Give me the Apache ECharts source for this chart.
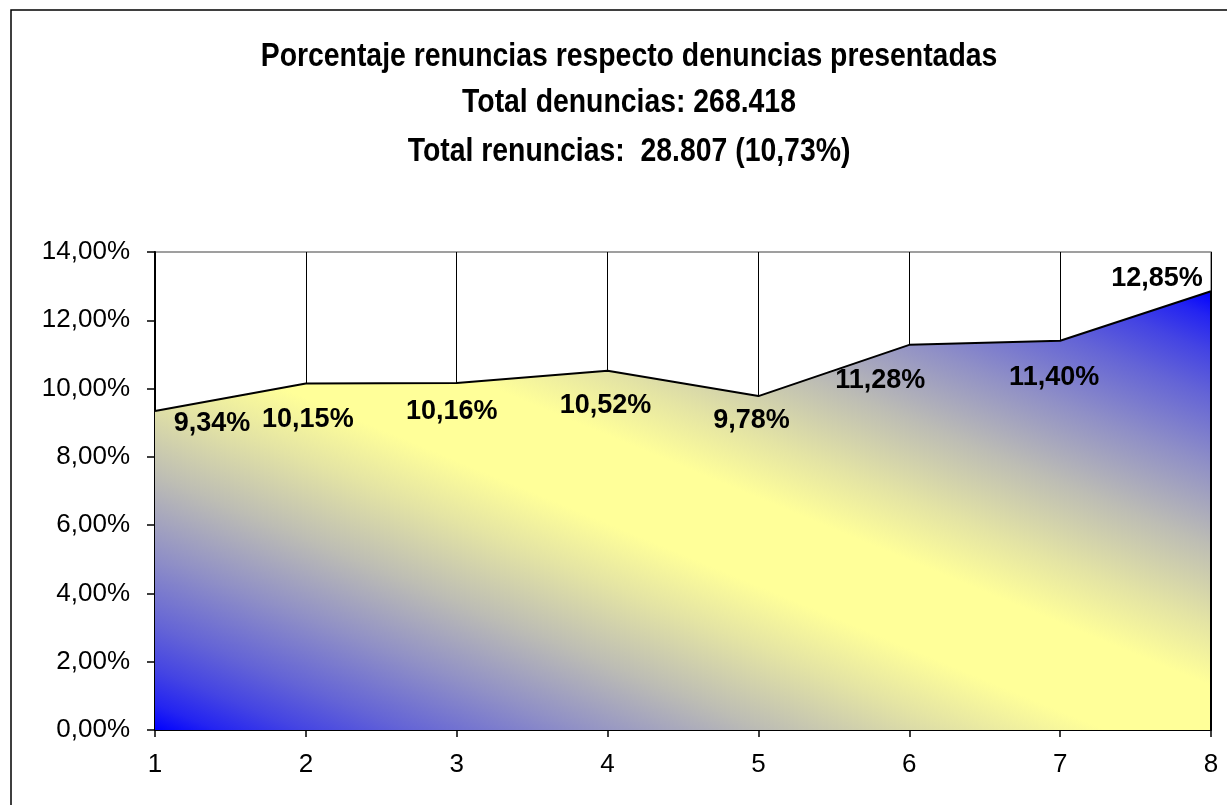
<!DOCTYPE html>
<html>
<head>
<meta charset="utf-8">
<style>html,body{margin:0;padding:0;background:#fff;}#c{width:1227px;height:805px;}</style>
<script src="https://cdn.jsdelivr.net/npm/echarts@6/dist/echarts.min.js"></script>
</head>
<body>
<div id="c"></div>
<script>
const titleLines = ['Porcentaje renuncias respecto denuncias presentadas', 'Total denuncias: 268.418', 'Total renuncias:  28.807 (10,73%)'];
const categories = ['1', '2', '3', '4', '5', '6', '7', '8'];
const values = [9.34, 10.15, 10.16, 10.52, 9.78, 11.28, 11.40, 12.85];
const yMin = 0, yMax = 14, yInterval = 2;

const labelOffsets = [[57, 12], [2, 36], [-5, 28], [-2, 35], [-7, 24], [-29, 36], [-6, 37], [-54, -13]];
const titleCentersY = [57, 103, 152];
const fmt = v => v.toFixed(2).replace('.', ',') + '%';

// gradient stops: blue -> light yellow -> blue
const gradStops = [
  [0.00, '#0000FF'], [0.03, '#2424F1'], [0.07, '#4444E3'], [0.12, '#6464D6'],
  [0.20, '#9090C6'], [0.29, '#BDBDB4'], [0.38, '#E4E4A4'], [0.45, '#FFFF99'],
  [0.55, '#FFFF99'], [0.62, '#E4E4A4'], [0.71, '#BDBDB4'], [0.80, '#9090C6'],
  [0.88, '#6464D6'], [0.93, '#4444E3'], [0.97, '#2424F1'], [1.00, '#0000FF']
];

const chart = echarts.init(document.getElementById('c'));
const lastIdx = values.length - 1;
const titleFont = "bold 33px 'Liberation Sans', Arial, sans-serif";

chart.setOption({
  animation: false,
  graphic: [
    { type: 'rect', shape: { x: 11, y: 10, width: 1240, height: 820 }, style: { fill: 'none', stroke: '#000', lineWidth: 1.5 }, z: 100 }
  ].concat(titleLines.map((t, i) => ({
    type: 'text', x: 629, y: titleCentersY[i], scaleX: 0.86, z: 101,
    style: { text: t, font: titleFont, fill: '#000', textAlign: 'center', textVerticalAlign: 'middle' }
  }))),
  grid: { left: 155, right: 16, top: 252, bottom: 75, show: true, borderColor: '#808080', borderWidth: 1.5, backgroundColor: '#fff' },
  xAxis: {
    type: 'category', data: categories, boundaryGap: false,
    axisLine: { lineStyle: { color: '#000', width: 2 } },
    axisTick: { show: true, length: 7, lineStyle: { color: '#000', width: 1.5 } },
    axisLabel: { margin: 22, fontFamily: "'Liberation Sans', Arial, sans-serif", fontSize: 26, color: '#000' },
    splitLine: { show: true, lineStyle: { color: '#000', width: 1 } }
  },
  yAxis: {
    type: 'value', min: yMin, max: yMax, interval: yInterval,
    axisLine: { show: true, lineStyle: { color: '#000', width: 2 } },
    axisTick: { show: true, length: 8, lineStyle: { color: '#000', width: 1.5 } },
    axisLabel: { margin: 25, fontFamily: "'Liberation Sans', Arial, sans-serif", fontSize: 26, color: '#000', formatter: v => fmt(v) },
    splitLine: { show: false }
  },
  series: [{
    type: 'line',
    data: values.map((v, i) => ({ value: v, label: { offset: labelOffsets[i] } })),
    symbol: 'circle', symbolSize: 0.1,
    itemStyle: { color: 'transparent' },
    lineStyle: { color: '#000', width: 2 },
    areaStyle: {
      opacity: 1,
      color: new echarts.graphic.LinearGradient(0.353, 1.353, 0.647, -0.353,
        gradStops.map(s => ({ offset: s[0], color: s[1] })))
    },
    label: {
      show: true, position: 'inside', formatter: p => fmt(p.value),
      fontFamily: "'Liberation Sans', Arial, sans-serif", fontWeight: 'bold', fontSize: 27, color: '#000'
    },
    markLine: {
      silent: true, symbol: 'none', label: { show: false },
      lineStyle: { color: '#000', width: 2, type: 'solid' },
      data: [[{ coord: [categories[lastIdx], yMin] }, { coord: [categories[lastIdx], values[lastIdx]] }]]
    }
  }]
});
</script>
</body>
</html>
